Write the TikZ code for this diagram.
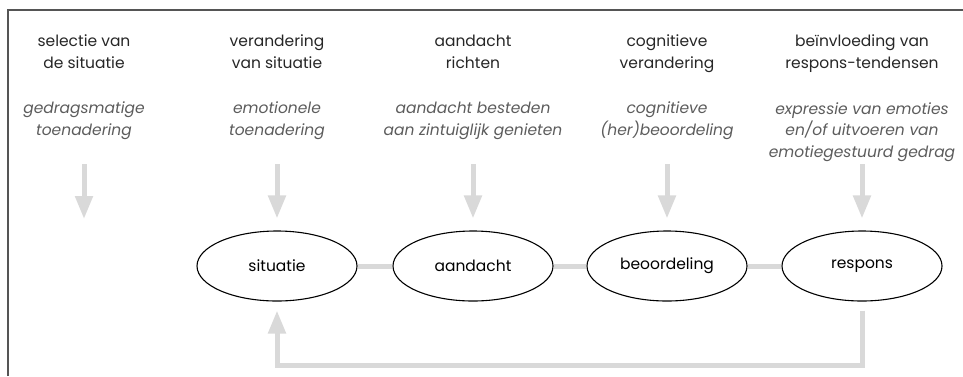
\documentclass[tikz,border=0pt]{standalone}
\usepackage{fontspec}
\setmainfont{Poppins}
\usetikzlibrary{shapes.geometric, arrows.meta, positioning}
\definecolor{pijlgrijs}{HTML}{D9D9D9}
\definecolor{tekstgrijs}{HTML}{5C5C5C}
\definecolor{randgrijs}{HTML}{555555}

\begin{document}
\begin{tikzpicture}[x=1pt, y=-1pt,
  kop/.style={anchor=base, align=center, inner sep=0pt, text=black!85,
    font=\fontsize{15.5}{21.5}\selectfont},
  voorbeeld/.style={anchor=base, align=center, inner sep=0pt, text=tekstgrijs,
    font=\fontsize{15.5}{21.5}\selectfont\itshape},
  fase/.style={ellipse, draw, line width=1.1pt, minimum width=160pt,
    minimum height=70pt, inner sep=0pt, font=\fontsize{15.5}{16}\selectfont},
  pijl/.style={draw=pijlgrijs, line width=5pt,
    -{Triangle[width=17pt, length=23pt]}},
  lijn/.style={draw=pijlgrijs, line width=5pt}]
\useasboundingbox (0,0) rectangle (963,376);
\draw[randgrijs, line width=1.5pt] (8,376) -- (8,10) -- (963,10);

% kopjes (basislijn van de laatste regel)
\node[kop] at (84, 68) (kop1) {selectie van\\de situatie};
\node[kop] at (277, 68) (kop2) {verandering\\van situatie};
\node[kop] at (473, 68) (kop3) {aandacht\\richten};
\node[kop] at (667, 68) (kop4) {cognitieve\\verandering};
\node[kop] at (862, 68) (kop5) {beïnvloeding van\\respons-tendensen};

\node[voorbeeld] at (84, 135) (vb1) {gedragsmatige\\toenadering};
\node[voorbeeld] at (277, 135) (vb2) {emotionele\\toenadering};
\node[voorbeeld] at (473, 135) (vb3) {aandacht besteden\\aan zintuiglijk genieten};
\node[voorbeeld] at (667, 135) (vb4) {cognitieve\\(her)beoordeling};
\node[voorbeeld] at (862, 157) (vb5) {expressie van emoties\\en/of uitvoeren van\\emotiegestuurd gedrag};

\node[fase] at (277, 266) (situatie) {situatie};
\node[fase] at (473, 266) (aandacht) {aandacht};
\node[fase] at (667, 266) (beoordeling) {beoordeling};
\node[fase] at (862, 266) (respons) {respons};

\coordinate (p1) at (84, 164);
\coordinate (e1) at (84, 219);
\coordinate (p2) at (277, 164);
\coordinate (p3) at (473, 164);
\coordinate (p4) at (667, 164);
\coordinate (p5) at (862, 164);

\draw[pijl] (p1) -- (e1);
\draw[pijl, shorten >=12pt] (p2) -- (situatie.north);
\draw[pijl, shorten >=12pt] (p3) -- (aandacht.north);
\draw[pijl, shorten >=12pt] (p4) -- (beoordeling.north);
\draw[pijl, shorten >=12pt] (p5) -- (respons.north);

\draw[lijn] (situatie) -- (aandacht);
\draw[lijn] (aandacht) -- (beoordeling);
\draw[lijn] (beoordeling) -- (respons);

% terugkoppeling
\draw[pijl] ([yshift=-9pt]respons.south) -- ++(0,55) -| ([yshift=-9pt]situatie.south);
\end{tikzpicture}
\end{document}
